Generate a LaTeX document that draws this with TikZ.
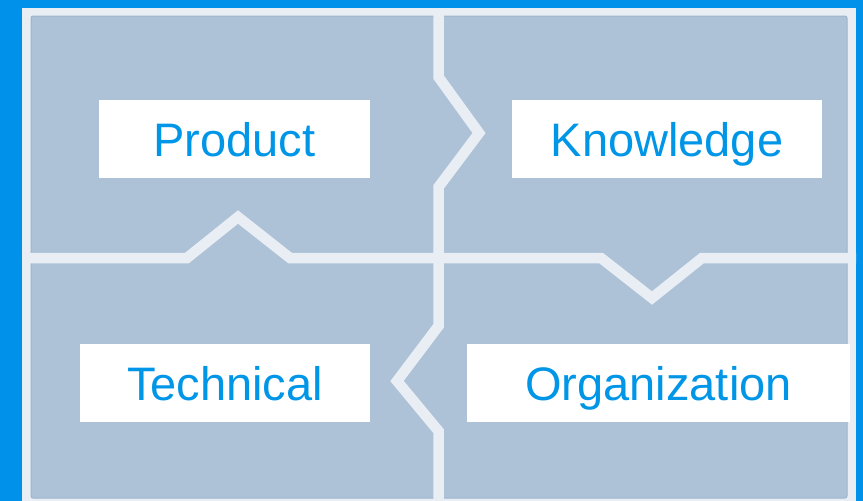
\documentclass[tikz,border=0pt]{standalone}
\usepackage{fontspec}
\setmainfont{Liberation Sans}
\definecolor{skyblue}{RGB}{0,145,234}
\definecolor{framegrey}{RGB}{233,238,245}
\definecolor{piecegrey}{RGB}{173,194,215}
\definecolor{pieceedge}{RGB}{158,180,204}
\definecolor{labelblue}{RGB}{0,150,232}
\tikzset{
  tagbox/.style={fill=white, text=labelblue, minimum height=78pt, text height=34pt,
    text depth=0pt, inner sep=0pt, font=\fontsize{47}{56}\selectfont},
  gap/.style={framegrey, line width=10.5pt, line join=miter}
}
\begin{document}
\begin{tikzpicture}[x=1pt, y=-1pt]
\useasboundingbox[fill=skyblue] (0,0) rectangle (863,501);
\fill[framegrey] (22,8) rectangle (856,501);
\draw[fill=piecegrey, draw=pieceedge, line width=1pt, rounded corners=2pt] (31,16) rectangle (847,498);
\draw[gap] (438.5,8) -- (438.5,77) -- (479,133) -- (438.5,187) -- (438.5,326)
  -- (397,381) -- (438.5,431) -- (438.5,501);
\draw[gap] (22,258) -- (187,258) -- (238,217) -- (290,258) -- (601,258)
  -- (652,298) -- (702,258) -- (856,258);
\foreach \name/\x/\y/\w/\txt in {product/234.5/139/271/Product, knowledge/667/139/310/Knowledge,
  technical/225/383/290/Technical, organization/658.5/383/383/Organization}
\node[tagbox, minimum width=\w pt] (\name) at (\x,\y) {\txt};
\end{tikzpicture}
\end{document}
